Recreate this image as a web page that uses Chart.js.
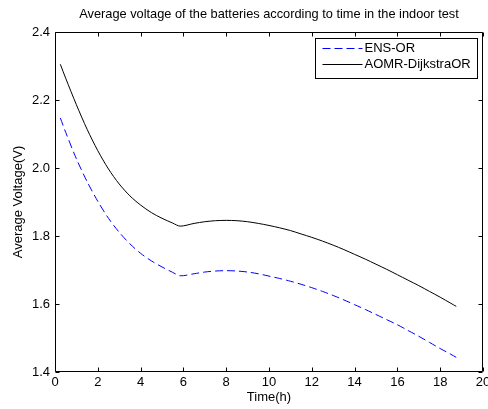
<!DOCTYPE html>
<html>
<head>
<meta charset="utf-8">
<script src="https://cdn.jsdelivr.net/npm/chart.js@4.4.1/dist/chart.umd.min.js"></script>
<style>
  html, body { margin: 0; padding: 0; background: #fff; overflow: hidden; }
  #wrap { width: 488px; height: 409px; }
</style>
</head>
<body>
<div id="wrap"><canvas id="c" width="488" height="409"></canvas></div>
<script>
const chartTitle = 'Average voltage of the batteries according to time in the indoor test';
const xTitle = 'Time(h)';
const yTitle = 'Average Voltage(V)';
const seriesNames = ['ENS-OR', 'AOMR-DijkstraOR'];

const timeH = [0.25, 0.5, 1, 1.5, 2, 2.5, 3, 3.5, 4, 4.5, 5, 5.5, 5.85, 6.5, 7, 7.5, 8, 8.5, 9, 9.5, 10,
               10.5, 11, 11.5, 12, 12.5, 13, 13.5, 14, 14.5, 15, 15.5, 16, 16.5, 17, 17.5, 18, 18.5, 18.75];
const ensOR = [2.147, 2.105, 2.027, 1.960, 1.902, 1.852, 1.811, 1.777, 1.749, 1.727, 1.709, 1.693, 1.683,
               1.689, 1.694, 1.697, 1.698, 1.697, 1.694, 1.689, 1.682, 1.675, 1.667, 1.658, 1.648, 1.637,
               1.625, 1.612, 1.598, 1.584, 1.569, 1.554, 1.539, 1.522, 1.505, 1.487, 1.469, 1.452, 1.443];
const aomrDijkstraOR = [2.305, 2.264, 2.186, 2.114, 2.051, 1.997, 1.953, 1.918, 1.891, 1.869, 1.852, 1.838, 1.829,
               1.837, 1.842, 1.845, 1.846, 1.845, 1.842, 1.837, 1.831, 1.824, 1.816, 1.806, 1.796, 1.785,
               1.773, 1.760, 1.746, 1.732, 1.717, 1.702, 1.686, 1.670, 1.654, 1.637, 1.620, 1.602, 1.593];

const xTicks = [0, 2, 4, 6, 8, 10, 12, 14, 16, 18, 20];
const yTicks = [1.4, 1.6, 1.8, 2.0, 2.2, 2.4];

const FONT = '"Liberation Sans", Arial, sans-serif';

function pts(xs, ys) { return xs.map((x, i) => ({ x: x, y: ys[i] })); }

const framePlugin = {
  id: 'frame',
  afterDraw(chart) {
    const { ctx, chartArea: a, scales: { x, y } } = chart;
    const L = Math.round(a.left) + 0.5, R = Math.round(a.right) - 0.5;
    const T = Math.round(a.top) + 0.5, B = Math.round(a.bottom) - 0.5;
    ctx.save();
    ctx.strokeStyle = '#000';
    ctx.lineWidth = 1;
    ctx.setLineDash([]);
    ctx.beginPath();
    ctx.rect(L, T, R - L, B - T);
    const tl = 4;
    xTicks.forEach(v => {
      const px = Math.round(x.getPixelForValue(v)) + 0.5;
      ctx.moveTo(px, B); ctx.lineTo(px, B - tl);
      ctx.moveTo(px, T); ctx.lineTo(px, T + tl);
    });
    yTicks.forEach(v => {
      const py = Math.round(y.getPixelForValue(v)) + 0.5;
      ctx.moveTo(L, py); ctx.lineTo(L + tl, py);
      ctx.moveTo(R, py); ctx.lineTo(R - tl, py);
    });
    ctx.stroke();

    // title
    ctx.fillStyle = '#000';
    ctx.font = '12.8px ' + FONT;
    ctx.textAlign = 'center';
    ctx.textBaseline = 'alphabetic';
    ctx.fillText(chartTitle, (a.left + a.right) / 2, 18);

    // legend
    const bw = 162, bh = 40;
    const bx = Math.round(a.right) - 6 - bw + 0.5;
    const by = Math.round(a.top) + 6 + 0.5;
    ctx.fillStyle = '#fff';
    ctx.fillRect(bx, by, bw, bh);
    ctx.strokeStyle = '#000';
    ctx.strokeRect(bx, by, bw, bh);
    chart.data.datasets.forEach((ds, i) => {
      const ly = by + 9.5 + i * 16;
      ctx.strokeStyle = ds.borderColor;
      ctx.lineWidth = 1;
      ctx.setLineDash(ds.borderDash || []);
      ctx.beginPath();
      ctx.moveTo(bx + 7, Math.round(ly) + 0.5);
      ctx.lineTo(bx + 47, Math.round(ly) + 0.5);
      ctx.stroke();
      ctx.setLineDash([]);
      ctx.fillStyle = '#000';
      ctx.font = '13px ' + FONT;
      ctx.textAlign = 'left';
      ctx.textBaseline = 'middle';
      ctx.fillText(ds.label, bx + 49, ly);
    });
    ctx.restore();
  }
};

new Chart(document.getElementById('c'), {
  type: 'line',
  data: {
    datasets: [
      {
        label: seriesNames[0],
        data: pts(timeH, ensOR),
        borderColor: '#0000ff',
        borderWidth: 1,
        borderDash: [8, 4],
        pointRadius: 0,
        tension: 0.3,
        fill: false
      },
      {
        label: seriesNames[1],
        data: pts(timeH, aomrDijkstraOR),
        borderColor: '#000000',
        borderWidth: 1,
        pointRadius: 0,
        tension: 0.3,
        fill: false
      }
    ]
  },
  options: {
    responsive: false,
    animation: false,
    events: [],
    layout: { padding: { top: 32, right: 5, left: 0, bottom: 0 } },
    plugins: {
      legend: { display: false },
      title: { display: false },
      tooltip: { enabled: false }
    },
    scales: {
      x: {
        type: 'linear',
        min: 0, max: 20,
        afterBuildTicks(s) { s.ticks = xTicks.map(v => ({ value: v })); },
        afterFit(s) { s.height = 37; s.paddingLeft = 0; s.paddingRight = 0; },
        grid: { display: false, drawTicks: false },
        border: { display: false },
        ticks: { color: '#000', padding: 3, maxRotation: 0, autoSkip: false, font: { size: 13, family: FONT }, callback: v => String(v) },
        title: { display: true, text: xTitle, color: '#000', font: { size: 13, family: FONT }, padding: { top: 0, bottom: 4 } }
      },
      y: {
        type: 'linear',
        min: 1.4, max: 2.4,
        afterBuildTicks(s) { s.ticks = yTicks.map(v => ({ value: v })); },
        afterFit(s) { s.width = 55; s.paddingTop = 0; s.paddingBottom = 0; },
        grid: { display: false, drawTicks: false },
        border: { display: false },
        ticks: { color: '#000', padding: 5, autoSkip: false, font: { size: 13, family: FONT }, callback: v => Number(v).toFixed(1) },
        title: { display: true, text: yTitle, color: '#000', font: { size: 13, family: FONT }, padding: { top: 11, bottom: 0 } }
      }
    }
  },
  plugins: [framePlugin]
});
</script>
</body>
</html>
